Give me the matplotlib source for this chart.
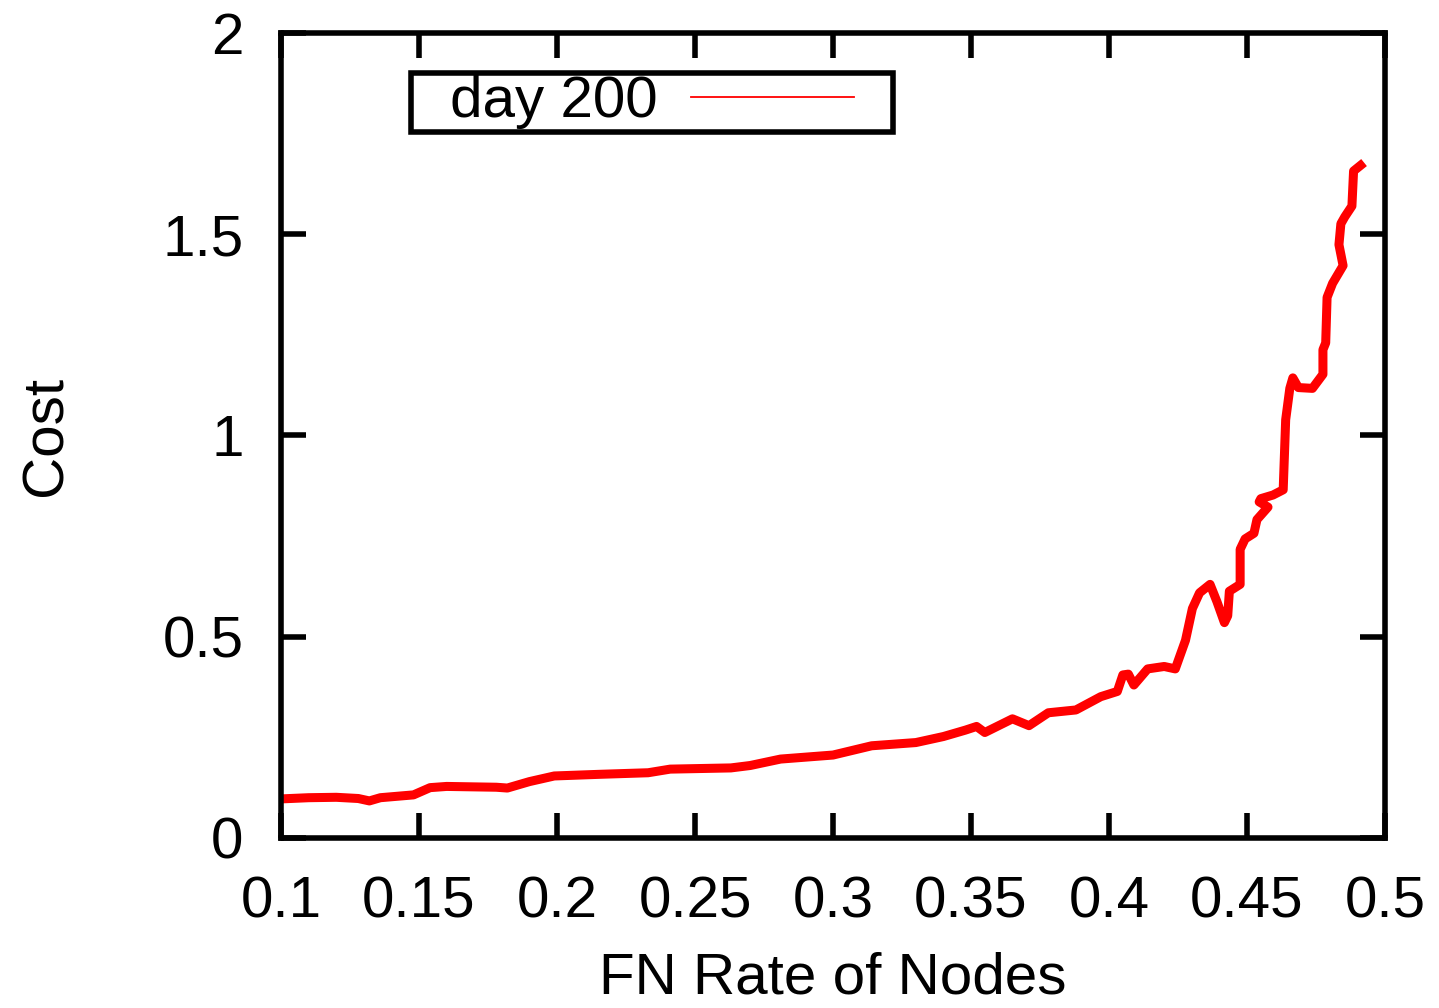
import matplotlib
matplotlib.use("Agg")
import matplotlib.pyplot as plt
from matplotlib.path import Path

# FN rate vs cost
fn_rate = [0.100, 0.110, 0.120, 0.128, 0.132, 0.136, 0.148, 0.154, 0.160, 0.178,
           0.182, 0.190, 0.199, 0.215, 0.233, 0.241, 0.263, 0.270, 0.281, 0.300,
           0.314, 0.330, 0.340, 0.348, 0.352, 0.355, 0.365, 0.371, 0.378, 0.388,
           0.397, 0.403, 0.405, 0.407, 0.409, 0.414, 0.420, 0.424, 0.4277, 0.4302,
           0.4328, 0.4366, 0.4391, 0.4418, 0.4430, 0.4436, 0.4475, 0.4475, 0.4493, 0.4525,
           0.4536, 0.4576, 0.4544, 0.4550, 0.4594, 0.4631, 0.4640, 0.4655, 0.4666, 0.4686,
           0.4737, 0.4775, 0.4775, 0.4785, 0.4790, 0.4810, 0.4848, 0.4833, 0.4840, 0.4854,
           0.4880, 0.4886, 0.4924]
cost = [0.097, 0.100, 0.101, 0.098, 0.092, 0.100, 0.107, 0.125, 0.128, 0.126,
        0.124, 0.140, 0.154, 0.158, 0.162, 0.171, 0.174, 0.180, 0.196, 0.206,
        0.229, 0.237, 0.252, 0.268, 0.277, 0.262, 0.296, 0.279, 0.311, 0.318,
        0.351, 0.364, 0.405, 0.407, 0.380, 0.420, 0.426, 0.420, 0.491, 0.570,
        0.609, 0.630, 0.587, 0.535, 0.552, 0.613, 0.630, 0.717, 0.743, 0.757,
        0.791, 0.822, 0.835, 0.843, 0.852, 0.865, 1.039, 1.117, 1.143, 1.119,
        1.117, 1.152, 1.213, 1.230, 1.343, 1.378, 1.422, 1.474, 1.526, 1.543,
        1.570, 1.657, 1.678]

xticks = [0.1, 0.15, 0.2, 0.25, 0.3, 0.35, 0.4, 0.45, 0.5]
xticklabels = ["0.1", "0.15", "0.2", "0.25", "0.3", "0.35", "0.4", "0.45", "0.5"]
yticks = [0, 0.5, 1, 1.5, 2]
yticklabels = ["0", "0.5", "1", "1.5", "2"]

plt.rcParams['font.family'] = ['Liberation Sans', 'DejaVu Sans']
fs = 42


def wide_box(x0, y0, width, height, mutation_size):
    # gnuplot-ish key box: padded left/right, tight top/bottom
    px = 0.66 * mutation_size
    py = 0.04 * mutation_size
    x0, x1 = x0 - px, x0 + width + px
    y0, y1 = y0 - py, y0 + height + py
    return Path([(x0, y0), (x1, y0), (x1, y1), (x0, y1), (x0, y0)], closed=True)


fig = plt.figure(figsize=(14.39, 10.08), dpi=100)
ax = fig.add_axes([0.1953, 0.1687, 0.9625 - 0.1953, 0.9673 - 0.1687])

ax.plot(fn_rate, cost, color='#ff0000', lw=6.5, solid_joinstyle='round', solid_capstyle='butt')
# legend sample is a thin line
ax.plot([], [], color='#ff0000', lw=1.3, label='day 200')

ax.set_xlim(0.1, 0.5)
ax.set_ylim(0, 2)
ax.set_xticks(xticks)
ax.set_xticklabels(xticklabels)
ax.set_yticks(yticks)
ax.set_yticklabels(yticklabels)
ax.tick_params(direction='in', length=18, width=4, top=True, right=True, labelsize=fs)
ax.tick_params(axis='x', pad=27)
ax.tick_params(axis='y', pad=27)
for s in ax.spines.values():
    s.set_linewidth(4)

ax.set_xlabel("FN Rate of Nodes", fontsize=fs)
ax.set_ylabel("Cost", fontsize=fs)
ax.xaxis.set_label_coords(0.5, -0.141)
ax.yaxis.set_label_coords(-0.188, 0.5)

leg = ax.legend(handles=[ax.lines[1]], loc='upper left', bbox_to_anchor=(0.153, 0.9475),
                borderaxespad=0, fontsize=fs, markerfirst=False, fancybox=False,
                edgecolor='black', framealpha=1, handlelength=2.8, borderpad=0,
                handletextpad=0.57)
leg.get_frame().set_boxstyle(wide_box)
leg.get_frame().set_linewidth(4)

fig.savefig("out.png", dpi=100)
